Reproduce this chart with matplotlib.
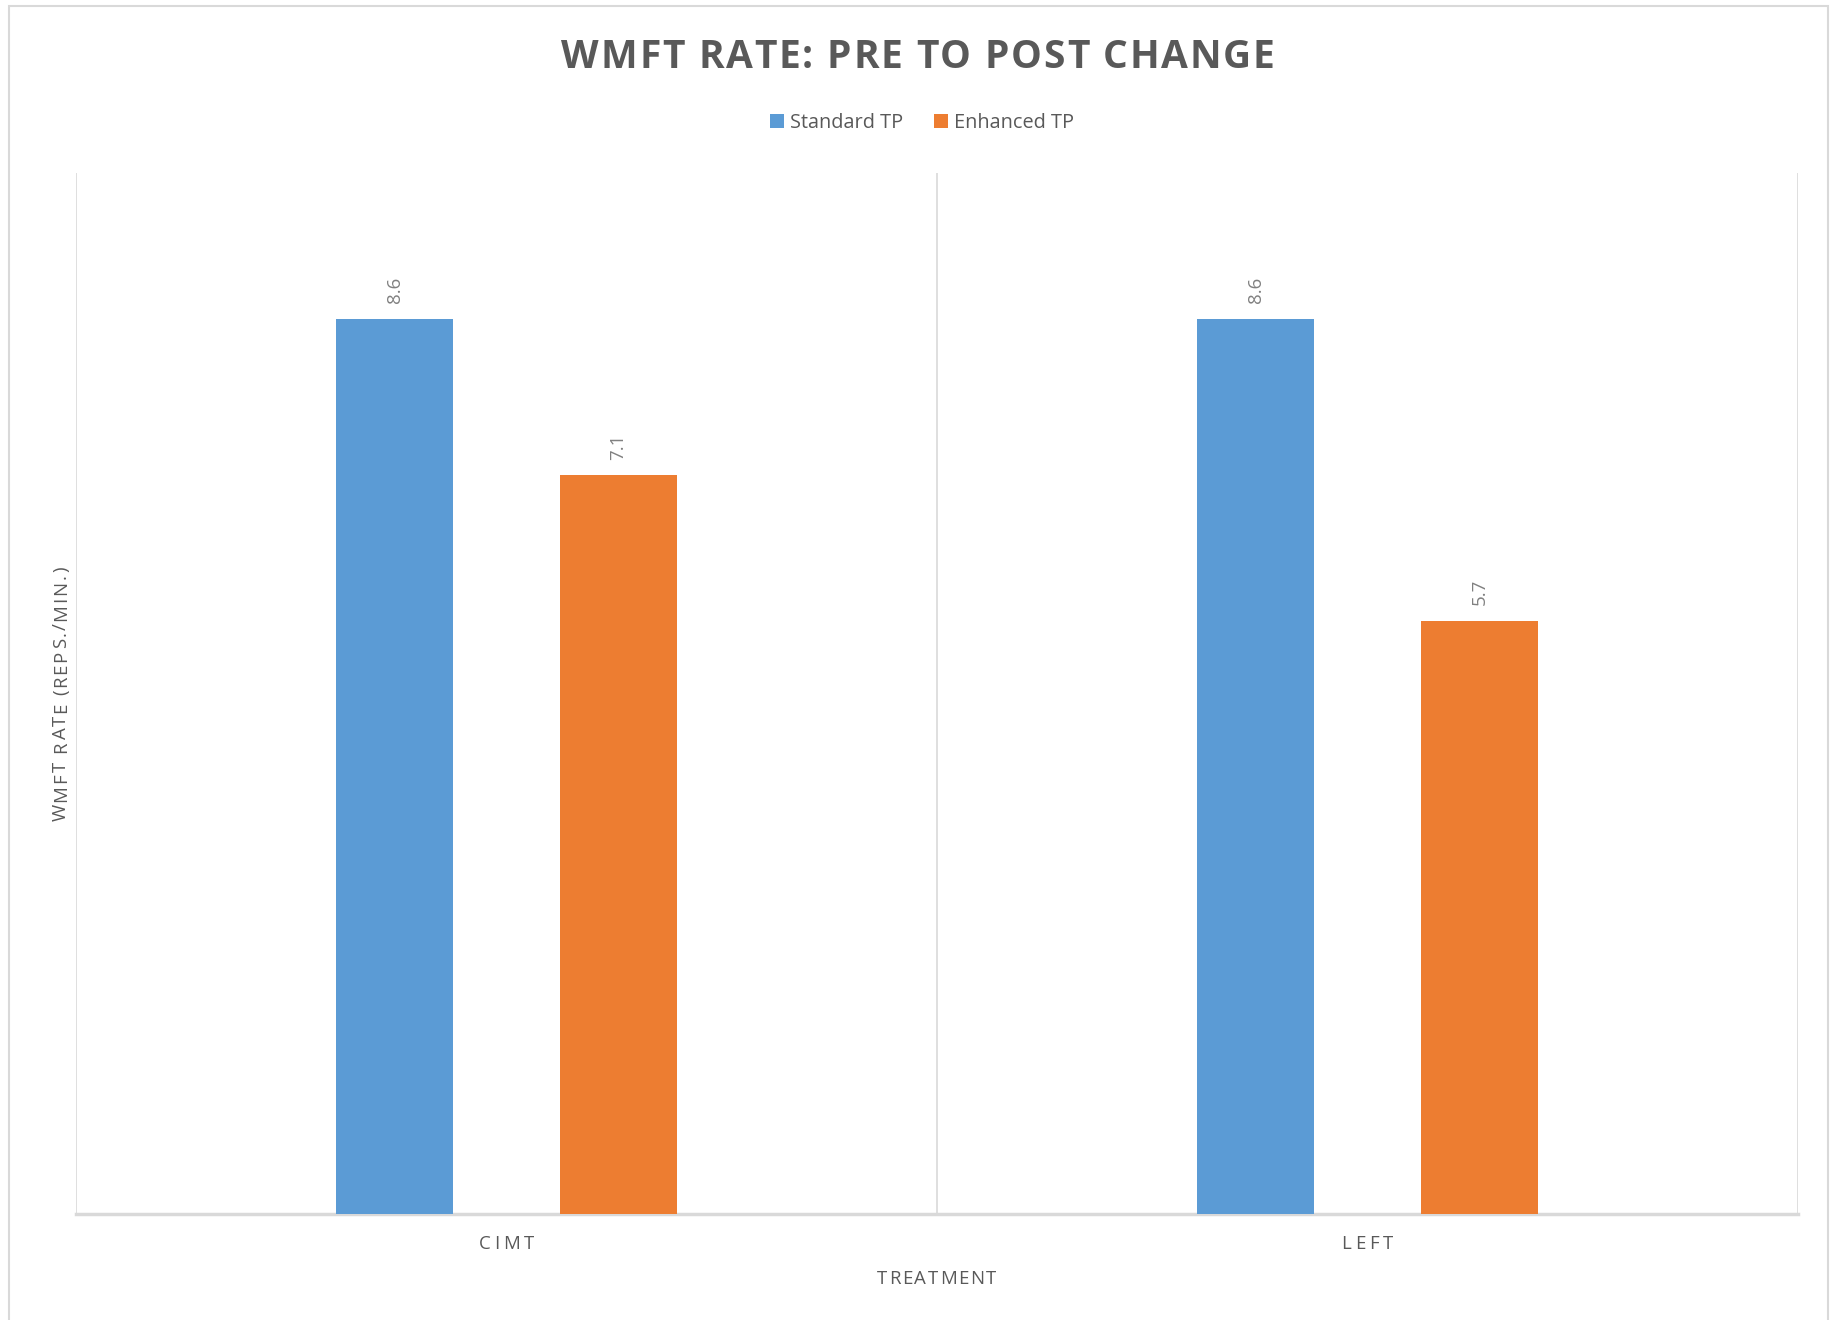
import matplotlib
matplotlib.use("Agg")
import matplotlib.pyplot as plt
from matplotlib import font_manager as fm
from matplotlib.ft2font import FT2Font
from matplotlib.patches import Rectangle
from matplotlib.transforms import IdentityTransform
import numpy as np

plt.rcParams['font.family'] = ['Open Sans', 'DejaVu Sans']

# chart data
categories = ["CIMT", "LEFT"]
series_names = ["Standard TP", "Enhanced TP"]
standard_tp = [8.6, 8.6]
enhanced_tp = [7.1, 5.7]

colors = ["#5B9BD5", "#ED7D31"]
grid_col = "#D9D9D9"
text_col = "#595959"

W, H, DPI = 1835, 1320, 100
fig = plt.figure(figsize=(W / DPI, H / DPI), dpi=DPI)
fig.patch.set_facecolor("white")


def spaced_text(center, base, s, size, spacing, weight="normal", color=text_col, vertical=False):
    """Draw s with extra tracking between letters, centred on `center` (pixels).
    Horizontal: center is x from left, base is baseline y from top.
    Vertical (reads bottom to top): center is y from top, base is baseline x."""
    prop = fm.FontProperties(family="Open Sans", weight=weight, size=size)
    font = FT2Font(fm.findfont(prop), hinting_factor=1)
    font.set_size(size, DPI)
    advs = [font.load_char(ord(ch)).linearHoriAdvance / 65536 for ch in s]
    total = sum(advs) + spacing * (len(s) - 1)
    pos = -total / 2
    for ch, a in zip(s, advs):
        if ch != " ":
            if vertical:
                fig.text(base, H - center + pos, ch, transform=IdentityTransform(),
                         fontproperties=prop, color=color, rotation=90,
                         rotation_mode="anchor", ha="left", va="baseline")
            else:
                fig.text(center + pos, H - base, ch, transform=IdentityTransform(),
                         fontproperties=prop, color=color, ha="left", va="baseline")
        pos += a + spacing


# light frame round the whole chart
fig.patches.append(Rectangle((9 / W, -0.01), (1828 - 9) / W, 1.01 - 6 / H,
                             transform=fig.transFigure, fill=False,
                             edgecolor=grid_col, lw=1.5))

ax = fig.add_axes([76 / W, 1 - 1214 / H, (1798 - 76) / W, (1214 - 173) / H])

x = np.arange(len(categories))
offset = 0.13
width = 0.136
bars1 = ax.bar(x - offset, standard_tp, width, color=colors[0], label=series_names[0], zorder=3)
bars2 = ax.bar(x + offset, enhanced_tp, width, color=colors[1], label=series_names[1], zorder=3)

for bars in (bars1, bars2):
    for b in bars:
        h = b.get_height()
        ax.annotate(f"{h:.1f}", (b.get_x() + b.get_width() / 2, h),
                    xytext=(0, 11), textcoords="offset points",
                    ha="center", va="bottom", rotation=90,
                    fontsize=13.5, color="#808080")

ax.set_xlim(-0.5, len(categories) - 0.5)
ax.set_ylim(0, 10)

# category separators
for xv in np.arange(-0.5, len(categories), 1.0):
    ax.axvline(xv, color=grid_col, lw=1.2, zorder=1)

for s in ["top", "left", "right"]:
    ax.spines[s].set_visible(False)
ax.spines["bottom"].set_color(grid_col)
ax.spines["bottom"].set_linewidth(2.5)

ax.set_yticks([])
ax.set_xticks(x)
ax.set_xticklabels([])
ax.tick_params(axis="x", length=0)

# category labels, tracked out
for xi, cat in zip(x, categories):
    cx = ax.transData.transform((xi, 0))[0]
    spaced_text(cx, 1249, cat, 13.4, 3.8)

spaced_text((76 + 1798) / 2, 1284, "TREATMENT", 13.4, 1.5)
spaced_text(694, 66, "WMFT RATE (REPS./MIN.)", 13.4, 1.7, vertical=True)

spaced_text(918, 68, "WMFT RATE: PRE TO POST CHANGE", 28, 1.7, weight="bold")

fig.legend(handles=[bars1, bars2], labels=series_names, loc="center",
           bbox_to_anchor=(922 / W, 1 - 123 / H), ncol=2, frameon=False,
           fontsize=14.3, labelcolor=text_col, handlelength=0.7, handleheight=0.7,
           handletextpad=0.3, columnspacing=1.6)

fig.savefig("out.png", dpi=DPI)
